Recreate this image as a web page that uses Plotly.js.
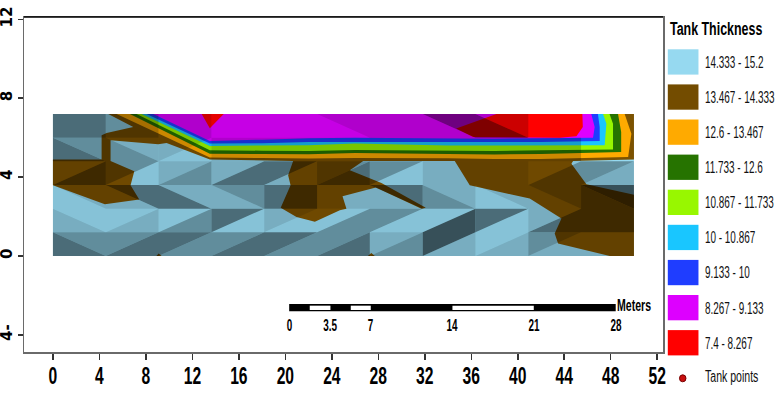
<!DOCTYPE html>
<html><head><meta charset="utf-8">
<script src="https://cdn.plot.ly/plotly-3.0.1.min.js"></script>
<style>html,body{margin:0;padding:0;background:#fff}#chart{width:782px;height:397px}</style>
</head><body><div id="chart"></div>
<script>
// ---- data ----
const gridX = [0,4.55,9.09,13.64,18.18,22.73,27.27,31.82,36.36,40.91,45.45,50];
const gridY = [0,1.2,2.4,3.6,4.8,6,7.2];
// hill-shade per triangle: rows bottom to top, columns left to right
const rowDiag = ["\\//////////", "\\//////////", "\\\\\\\\\\\\\\\\\\\\\\", "///////////", "\\\\/////////", "\\\\\\//\\\\\\\\//"];
const shadeUpper = [
 [3,3,4,3,4,3,2,5,1,3,2],
 [1,1,1,4,2,1,3,1,4,2,4],
 [2,4,2,3,4,2,4,2,2,3,5],
 [2,3,2,2,4,3,3,2,2,1,3],
 [3,2,2,2,2,2,2,2,2,2,0],
 [4,3,2,1,1,2,2,4,2,0,0]];
const shadeLower = [
 [4,4,3,4,3,4,3,2,2,2,2],
 [2,2,3,1,1,3,1,5,1,4,4],
 [1,2,4,2,4,2,2,3,1,2,4],
 [4,1,3,4,2,4,1,2,2,3,2],
 [4,3,1,2,2,2,2,2,2,2,0],
 [4,3,2,1,1,1,2,2,4,0,0]];
const shadeAlpha = [0,0.1,0.2,0.35,0.5,0.63];
const brownX = [4.76,6.91,4.62,4.19,4.19,0,0,4.47,7.43,6.68,7.0,4.96,4.96,9.06,9.78,13.51,20.67,20.24,20.45,19.6,20.96,22.54,24.69,25.26,24.92,27.79,31.72,32.09,28.27,25.55,26.7,34.58,35.87,41.03,43.76,43.18,43.47,47.92,50,50,45.91,44.62,44.76,50,50];
const brownY = [7.2,6.54,6.24,6.12,4.89,4.89,3.59,2.62,2.86,3.59,4.30,4.82,5.87,5.66,5.73,4.89,4.82,4.09,3.59,2.45,1.98,1.73,2.32,2.40,3.03,3.47,2.40,2.44,3.70,4.35,4.82,4.82,3.59,2.91,1.90,1.14,0.63,0,0,3.11,3.64,4.68,4.82,4.89,7.2];
const spotX = [8.9,9.35,9.1,null,27.1,27.7,27.4];
const spotY = [0,0,0.13,null,0,0,0.15];
const bandMidX = [13.5,18,22,26,30,34,38,42];
const orangeX = [5.48,49.5,49.78,49.2];  const orangeY = [4.99,4.97,4.94,4.97,4.97,4.95,4.92,4.92,5.02,6.2];
const greenX  = [6.62,48.9,48.9,48.63];  const greenY  = [5.19,5.17,5.16,5.22,5.2,5.2,5.15,5.17,5.27,6.29];
const limeX   = [7.2,48.2,48.2,47.9];    const limeY   = [5.36,5.34,5.33,5.38,5.36,5.36,5.32,5.36,5.4,6.71];
const cyanX   = [7.63,47.48,47.63,47.34];const cyanY   = [5.58,5.6,5.62,5.7,5.66,5.6,5.6,5.6,5.61,6.71];
const blueX   = [8.06,47.05,47.05,46.9]; const blueY   = [5.7,5.72,5.78,5.78,5.78,5.78,5.76,5.78,5.83,6.54];
const magentaX= [8.63,46.48,46.62,46.33];const magentaY= [5.83,5.9,5.97,6.0,5.98,5.95,5.95,5.97,6.0,6.54];
const redX = [12.8,13.5,14.7,null,38.17,45.56,45.6,45.05,43.6,36.16,34.7];
const redY = [7.2,6.48,7.2,null,7.2,7.2,6.54,6.07,6.0,6.03,6.46];
const legendTitle = "Tank Thickness";
const legendLabels = ["14.333 - 15.2","13.467 - 14.333","12.6 - 13.467","11.733 - 12.6","10.867 - 11.733","10 - 10.867","9.133 - 10","8.267 - 9.133","7.4 - 8.267"];
const legendColors = ["#96D9F0","#734C00","#FFAA00","#267300","#98F700","#19C6FF","#1F3DFF","#DD00FF","#FF0000"];
const xTicks = [0,4,8,12,16,20,24,28,32,36,40,44,48,52];
const yTicks = [-4,0,4,8,12];
const yTickText = ["4-","0","4","8","12"];
const scaleValues = ["0","3.5","7","14","21","28"];
const scaleAt = [20.33,23.88,27.35,34.38,41.38,48.43];
const scaleWhiteFrom = [22.1,25.63,34.38];
const scaleWhiteTo = [23.88,27.35,41.38];

// ---- traces ----
const traces = [];
function poly(color, x, y){
  traces.push({type:"scatter",mode:"lines",x:x,y:y,fill:"toself",fillcolor:color,line:{width:0,color:color},hoverinfo:"skip",showlegend:false});
}
function closeBand(xs,ys){
  const x=[xs[0]].concat(bandMidX,[xs[1],xs[2],xs[3]]);
  const y=[7.2].concat(ys,[7.2]);
  return [x,y];
}
function shade(test){
  for(let k=1;k<shadeAlpha.length;k++){
    const x=[],y=[];
    for(let r=0;r<6;r++)for(let c=0;c<11;c++){
      if(!test(r,c))continue;
      const x0=gridX[c],x1=gridX[c+1],y0=gridY[r],y1=gridY[r+1];
      const back=rowDiag[r][c]==="\\";
      if(shadeUpper[r][c]===k){
        if(back)x.push(x0,x1,x1,x0,null),y.push(y1,y1,y0,y1,null);
        else x.push(x0,x1,x0,x0,null),y.push(y0,y1,y1,y0,null);
      }
      if(shadeLower[r][c]===k){
        if(back)x.push(x0,x1,x0,x0,null),y.push(y1,y0,y0,y1,null);
        else x.push(x0,x1,x1,x0,null),y.push(y0,y1,y0,y0,null);
      }
    }
    if(x.length)poly("rgba(0,0,0,"+shadeAlpha[k]+")",x,y);
  }
}
const overBands=(r,c)=>(r===5&&c>=1)||(r===4&&c>=2);
poly(legendColors[0],[0,50,50,0,0],[0,0,7.2,7.2,0]);
poly("#7C5200",brownX,brownY);
poly("#7C5200",spotX,spotY);
shade((r,c)=>!overBands(r,c));
[[orangeX,orangeY,2],[greenX,greenY,3],[limeX,limeY,4],[cyanX,cyanY,5],[blueX,blueY,6],[magentaX,magentaY,7]].forEach(b=>{
  const p=closeBand(b[0],b[1]); poly(legendColors[b[2]],p[0],p[1]);
});
poly(legendColors[8],redX,redY);
shade(overBands);

// ---- layout ----
const W=782,H=397,L=24,R=663.5,T=16.7,B=351.7;
const px=v=>(v-L)/(R-L), py=v=>(B-v)/(B-T);
const shapes=[],ann=[];
const face="'Liberation Sans',sans-serif";
shapes.push({type:"line",xref:"paper",yref:"paper",x0:0,x1:1,y0:1,y1:1,line:{color:"#000",width:1.5}});
shapes.push({type:"rect",xref:"x",yref:"y",x0:scaleAt[0],x1:scaleAt[5],y0:-2.8,y1:-2.43,fillcolor:"#000",line:{width:0}});
scaleWhiteFrom.forEach((a,i)=>shapes.push({type:"rect",xref:"x",yref:"y",x0:a,x1:scaleWhiteTo[i],y0:-2.74,y1:-2.52,fillcolor:"#fff",line:{width:0}}));
scaleValues.forEach((t,i)=>ann.push({xref:"x",yref:"y",x:scaleAt[i],y:-3.55,yanchor:"middle",text:t,showarrow:false,font:{family:face,size:16,color:"#000",weight:700}}));
ann.push({xref:"x",yref:"y",x:48.4,y:-2.5,xanchor:"left",yanchor:"middle",text:"Meters",showarrow:false,font:{family:face,size:17,color:"#000",weight:700}});
ann.push({xref:"paper",yref:"paper",x:px(668.5),y:py(29),xanchor:"left",yanchor:"middle",text:legendTitle,showarrow:false,font:{family:face,size:18,color:"#000",weight:700}});
legendLabels.forEach((t,i)=>{
  const top=49+i*35.1;
  shapes.push({type:"rect",xref:"paper",yref:"paper",x0:px(668.3),x1:px(699),y0:py(top),y1:py(top+25.3),fillcolor:legendColors[i],line:{width:0}});
  ann.push({xref:"paper",yref:"paper",x:px(704),y:py(top+13),xanchor:"left",yanchor:"middle",text:t,showarrow:false,font:{family:face,size:16,color:"#111"}});
});
shapes.push({type:"circle",xref:"paper",yref:"paper",x0:px(680),x1:px(686.5),y0:py(374.5),y1:py(381.5),fillcolor:"#C81010",line:{color:"#700",width:1}});
ann.push({xref:"paper",yref:"paper",x:px(704),y:py(376),xanchor:"left",yanchor:"middle",text:"Tank points",showarrow:false,font:{family:face,size:16,color:"#111"}});

const layout={
  width:W,height:H,showlegend:false,paper_bgcolor:"#fff",plot_bgcolor:"#fff",
  margin:{l:L,r:W-R,t:T,b:H-B,pad:0},
  xaxis:{range:[-2.49,52.5],tickmode:"array",tickvals:xTicks,ticktext:xTicks.map(String),showgrid:false,zeroline:false,
    showline:true,mirror:true,linecolor:"#6a6a6a",linewidth:1.5,ticks:"outside",ticklen:6,tickwidth:1.5,tickcolor:"#333",ticklabelstandoff:-4,
    tickfont:{family:face,size:24,color:"#000",weight:700},tickangle:0},
  yaxis:{range:[-4.87,12.12],tickmode:"array",tickvals:yTicks,ticktext:yTickText,showgrid:false,zeroline:false,
    showline:true,mirror:true,linecolor:"#6a6a6a",linewidth:1.5,ticks:"outside",ticklen:5,tickwidth:1.5,tickcolor:"#333",
    tickfont:{family:"'DejaVu Sans',sans-serif",size:15,color:"#000",weight:700},tickangle:-90},
  shapes:shapes,annotations:ann
};
function squeeze(el,f){
  const len=el.getComputedTextLength();
  el.setAttribute("lengthAdjust","spacingAndGlyphs");
  el.setAttribute("textLength",(len*f).toFixed(1));
}
Plotly.newPlot("chart",traces,layout,{displayModeBar:false,staticPlot:true}).then(gd=>{
  const root=document.getElementById("chart");
  root.querySelectorAll(".xtick text").forEach(t=>squeeze(t,0.65));
  root.querySelectorAll(".annotation").forEach(a=>{
    const i=+a.getAttribute("data-index"), o=ann[i], t=a.querySelector("text");
    if(!t)return;
    const f=o.text===legendTitle?0.69:(o.text==="Tank points"?0.66:0.62);
    if(o.xanchor==="left"){
      const b=t.getBBox();
      t.setAttribute("text-anchor","start");
      t.setAttribute("x",b.x);
    }
    squeeze(t,f);
  });
});
</script></body></html>
